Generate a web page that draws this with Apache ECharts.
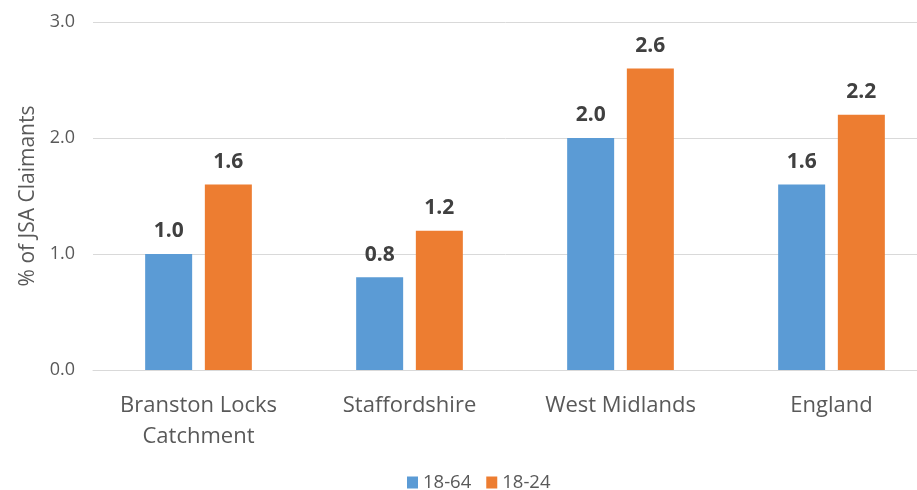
<!DOCTYPE html>
<html>
<head>
<meta charset="utf-8">
<script src="https://cdn.jsdelivr.net/npm/echarts@6/dist/echarts.min.js"></script>
<style>
html, body { margin: 0; padding: 0; background: #fff; }
#chart { width: 917px; height: 490px; }
</style>
</head>
<body>
<div id="chart"></div>
<script>
const categories = ['Branston Locks\nCatchment', 'Staffordshire', 'West Midlands', 'England']
const seriesNames = ['18-64', '18-24']
const values1864 = [1.0, 0.8, 2.0, 1.6]
const values1824 = [1.6, 1.2, 2.6, 2.2]
const yTicks = { min: 0, max: 3, interval: 1 }

const font = '"Open Sans", sans-serif'
const chart = echarts.init(document.getElementById('chart'))

const barLabel = {
  show: true,
  position: 'top',
  distance: 12,
  color: '#404040',
  fontSize: 21,
  fontWeight: 'bold',
  fontFamily: font,
  formatter: (p) => p.value.toFixed(1)
}

chart.setOption({
  animation: false,
  color: ['#5b9bd5', '#ed7d31'],
  grid: {
    left: 93,
    top: 22,
    width: 844,
    height: 348,
    outerBoundsMode: 'none'
  },
  legend: {
    data: seriesNames,
    top: 468,
    left: 402,
    itemWidth: 11,
    itemHeight: 12,
    itemGap: 15,
    icon: 'rect',
    textStyle: { color: '#595959', fontSize: 18.5, fontFamily: font }
  },
  xAxis: {
    type: 'category',
    data: categories,
    axisLine: { lineStyle: { color: '#d9d9d9' } },
    axisTick: { show: false },
    axisLabel: {
      color: '#595959',
      fontSize: 22,
      fontFamily: font,
      margin: 20,
      lineHeight: 31
    }
  },
  yAxis: {
    type: 'value',
    min: yTicks.min,
    max: yTicks.max,
    interval: yTicks.interval,
    name: '% of JSA Claimants',
    nameLocation: 'middle',
    nameGap: 54,
    nameTextStyle: { color: '#595959', fontSize: 21, fontFamily: font },
    axisLine: { show: false },
    axisTick: { show: false },
    axisLabel: {
      color: '#595959',
      fontSize: 18,
      fontFamily: font,
      margin: 18,
      formatter: (v) => v.toFixed(1)
    },
    splitLine: { lineStyle: { color: '#d9d9d9', width: 1 } }
  },
  series: [
    {
      name: seriesNames[0],
      type: 'bar',
      data: values1864,
      barWidth: 47,
      barGap: '27%',
      label: barLabel
    },
    {
      name: seriesNames[1],
      type: 'bar',
      data: values1824,
      barWidth: 47,
      barGap: '27%',
      label: barLabel
    }
  ]
})
</script>
</body>
</html>
